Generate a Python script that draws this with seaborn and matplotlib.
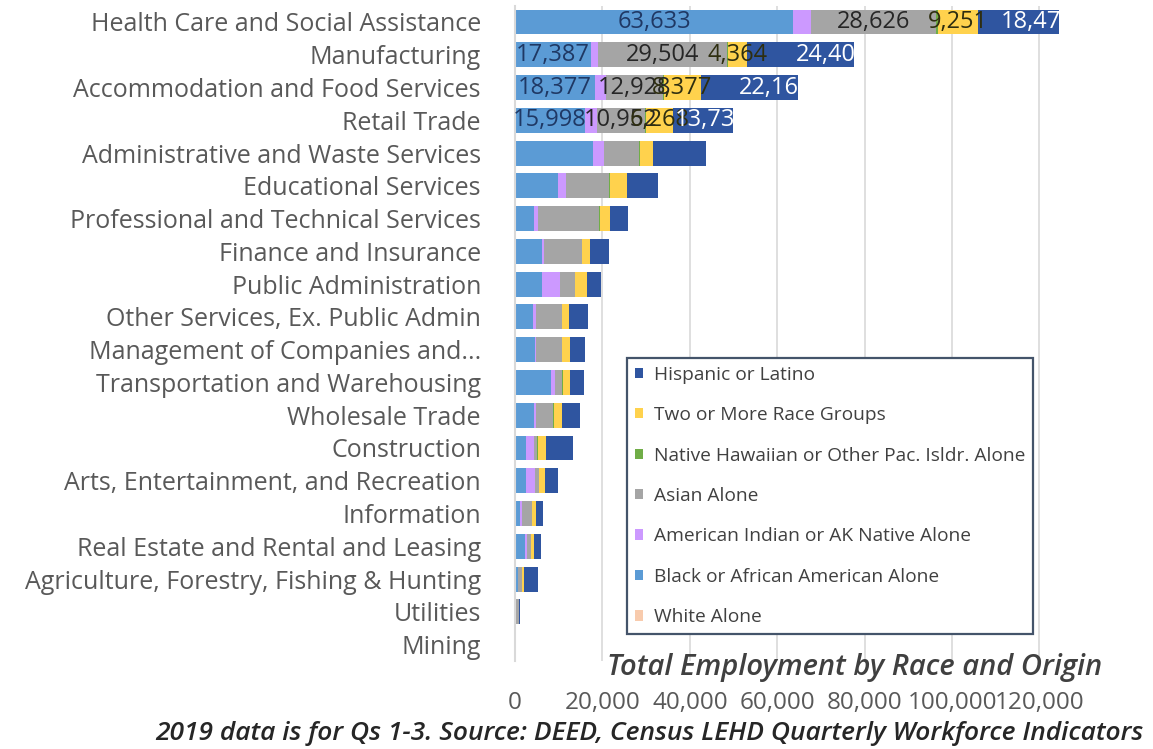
import matplotlib
matplotlib.use("Agg")
import numpy as np
import pandas as pd
import matplotlib.pyplot as plt
import seaborn as sns
from matplotlib.patches import Patch
from matplotlib.ticker import FuncFormatter

# ---- data -------------------------------------------------------------
industries = [
    "Health Care and Social Assistance",
    "Manufacturing",
    "Accommodation and Food Services",
    "Retail Trade",
    "Administrative and Waste Services",
    "Educational Services",
    "Professional and Technical Services",
    "Finance and Insurance",
    "Public Administration",
    "Other Services, Ex. Public Admin",
    "Management of Companies and...",
    "Transportation and Warehousing",
    "Wholesale Trade",
    "Construction",
    "Arts, Entertainment, and Recreation",
    "Information",
    "Real Estate and Rental and Leasing",
    "Agriculture, Forestry, Fishing & Hunting",
    "Utilities",
    "Mining",
]

black = [63633, 17387, 18377, 15998, 17800, 9900, 4300, 6200, 6200, 4100,
         4500, 8200, 4400, 2600, 2500, 1200, 2400, 700, 300, 60]
amer_indian = [4000, 1600, 2500, 2700, 2500, 1800, 900, 400, 4100, 600,
               300, 900, 300, 1800, 2000, 300, 300, 100, 30, 20]
asian = [28626, 29504, 12928, 10952, 8000, 9900, 14000, 8700, 3400, 6000,
         5900, 1700, 4100, 700, 900, 2300, 1000, 800, 600, 40]
native_hawaiian = [500, 300, 300, 300, 300, 200, 200, 100, 100, 100,
                   100, 100, 100, 100, 100, 50, 50, 50, 20, 10]
two_or_more = [9251, 4364, 8377, 6268, 3000, 3900, 2300, 1800, 2700, 1600,
               1800, 1600, 1800, 1800, 1400, 900, 500, 300, 60, 20]
hispanic = [18474, 24405, 22163, 13736, 12000, 7100, 4100, 4300, 3200, 4400,
            3400, 3400, 4200, 6200, 3000, 1600, 1600, 3400, 150, 80]

# stacking order, left to right
stack_names = [
    "Black or African American Alone",
    "American Indian or AK Native Alone",
    "Asian Alone",
    "Native Hawaiian or Other Pac. Isldr. Alone",
    "Two or More Race Groups",
    "Hispanic or Latino",
]
stack_values = [black, amer_indian, asian, native_hawaiian, two_or_more, hispanic]
stack_colors = ["#5B9BD5", "#CC99FF", "#A5A5A5", "#70AD47", "#FFD24D", "#2F55A0"]

# legend lists the series top-down, with White Alone last
legend_names = [
    "Hispanic or Latino",
    "Two or More Race Groups",
    "Native Hawaiian or Other Pac. Isldr. Alone",
    "Asian Alone",
    "American Indian or AK Native Alone",
    "Black or African American Alone",
    "White Alone",
]
white_color = "#F8CBAD"

# segments carrying value labels (first four industries)
labeled_rows = 4
labeled_series = {
    "Black or African American Alone": "#1F3864",
    "Asian Alone": "#262626",
    "Two or More Race Groups": "#2E2E10",
    "Hispanic or Latino": "#FFFFFF",
}

x_ticks = [0, 20000, 40000, 60000, 80000, 100000, 120000]

# ---- figure -----------------------------------------------------------
sns.set_theme(style="white")
plt.rcParams["font.family"] = ["Open Sans", "DejaVu Sans"]

W, H = 1153, 749
fig = plt.figure(figsize=(W / 100, H / 100), dpi=100)
fig.patch.set_facecolor("white")

x_max = 130000
ax_left, ax_top, ax_bottom = 515, 5.6, 661
ax_right = ax_left + x_max / 228.8
ax = fig.add_axes([ax_left / W, 1 - ax_bottom / H,
                   (ax_right - ax_left) / W, (ax_bottom - ax_top) / H])

df = pd.DataFrame({"industry": industries})
left = np.zeros(len(industries))
containers = {}
for name, vals, col in zip(stack_names, stack_values, stack_colors):
    df[name] = vals
    sns.barplot(data=df, x=name, y="industry", order=industries, orient="y",
                color=col, saturation=1, width=0.76, errorbar=None,
                left=left.copy(), linewidth=0, ax=ax)
    containers[name] = ax.containers[-1]
    left = left + np.asarray(vals, dtype=float)

# value labels; the Hispanic labels sit at the inside end and are clipped by their bar
for name, txt_color in labeled_series.items():
    cont = containers[name]
    vals = df[name].to_numpy()
    for i in range(labeled_rows):
        bar = cont.patches[i]
        x0 = bar.get_x()
        w = bar.get_width()
        yc = bar.get_y() + bar.get_height() / 2
        label = f"{vals[i]:,.0f}"
        if name == "Hispanic or Latino":
            t = ax.annotate(label, xy=(x0 + w, yc), xytext=(11, 0),
                            textcoords="offset points", ha="right", va="center",
                            color=txt_color, fontsize=17)
            t.set_clip_path(bar)
        else:
            ax.text(x0 + w / 2, yc, label, ha="center", va="center",
                    color=txt_color, fontsize=17)

# axes styling
ax.set_xlim(0, x_max)
ax.set_ylim(len(industries) - 0.5, -0.5)
ax.set_xticks(x_ticks)
ax.xaxis.set_major_formatter(FuncFormatter(lambda v, p: f"{v:,.0f}"))
ax.grid(axis="x", color="#D9D9D9", linewidth=1.2)
ax.grid(axis="y", visible=False)
ax.set_axisbelow(True)
for s in ["top", "right", "bottom"]:
    ax.spines[s].set_visible(False)
ax.spines["left"].set_color("#D9D9D9")
ax.spines["left"].set_linewidth(1.5)
ax.tick_params(axis="both", length=0, labelcolor="#595959")
ax.tick_params(axis="y", labelsize=18, pad=24.5)
ax.tick_params(axis="x", labelsize=17.5, pad=21.5)
ax.set_xlabel("")
ax.set_ylabel("")

# legend
handles = [Patch(facecolor=stack_colors[stack_names.index(n)] if n in stack_names
                 else white_color, edgecolor="none") for n in legend_names]
leg = fig.legend(handles, legend_names, loc="upper left",
                 bbox_to_anchor=(627 / W, 1 - 358 / H), bbox_transform=fig.transFigure,
                 fontsize=13.8, frameon=True, fancybox=False, framealpha=1,
                 edgecolor="#44546A", handlelength=0.45, handleheight=0.45,
                 handletextpad=0.55, labelspacing=1.17, borderpad=0.4,
                 borderaxespad=0)
leg.get_frame().set_linewidth(1.6)
for t in leg.get_texts():
    t.set_color("#404040")

# chart title and source note
fig.text(855 / W, 1 - 668 / H, "Total Employment by Race and Origin",
         ha="center", va="center", fontsize=21, style="italic",
         fontweight="semibold", color="#404040")
fig.text(649 / W, 1 - 733 / H,
         "2019 data is for Qs 1-3. Source: DEED, Census LEHD Quarterly Workforce Indicators",
         ha="center", va="center", fontsize=19, style="italic",
         fontweight="semibold", color="#262626")

fig.savefig("out.png", dpi=100, facecolor="white")
